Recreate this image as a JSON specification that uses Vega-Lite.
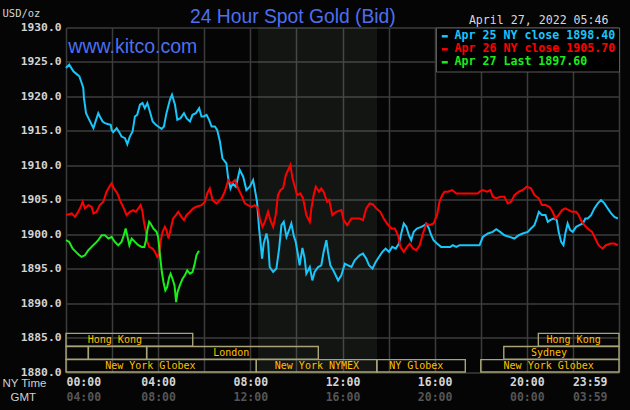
{
  "$schema": "https://vega.github.io/schema/vega-lite/v6.json",
  "width": 553,
  "height": 344.5,
  "autosize": "none",
  "padding": {"left": 66, "top": 27.5, "right": 11, "bottom": 38},
  "background": "#050505",
  "title": {
    "text": "24 Hour Spot Gold (Bid)",
    "frame": "group",
    "anchor": "start",
    "dx": 124,
    "offset": -34.5,
    "baseline": "alphabetic",
    "font": "Liberation Sans",
    "fontSize": 19.3,
    "fontWeight": "normal",
    "color": "#4d6ff0"
  },
  "config": {
    "view": {"stroke": null},
    "axis": {"gridColor": "#3c3c3c", "gridWidth": 1.5, "ticks": false, "domain": false},
    "axisY": {
      "tickCount": 10, "format": ".1f", "grid": true,
      "labelFont": "DejaVu Sans Mono", "labelFontWeight": "bold", "labelFontSize": 11.3,
      "labelColor": "#d4d4d4", "labelPadding": 5,
      "titleAngle": 0, "titleX": -64, "titleY": -14.5, "titleAlign": "left", "titleBaseline": "middle",
      "titleFont": "DejaVu Sans Mono", "titleFontSize": 10.5, "titleFontWeight": "normal", "titleColor": "#d4d4d4"
    }
  },
  "datasets": {
    "sessions": [
      {"name": "Hong Kong", "start": 0, "end": 5.5, "lo": 1883.75, "hi": 1885.6, "mid": 1884.68, "at": 2.12},
      {"name": "Hong Kong", "start": 20.5, "end": 24, "lo": 1883.75, "hi": 1885.6, "mid": 1884.68, "at": 22.03},
      {"name": "", "start": 0, "end": 0.97, "lo": 1881.85, "hi": 1883.7, "mid": 1882.78, "at": null},
      {"name": "", "start": 0.97, "end": 3.5, "lo": 1881.85, "hi": 1883.7, "mid": 1882.78, "at": null},
      {"name": "London", "start": 3.5, "end": 10.95, "lo": 1881.85, "hi": 1883.7, "mid": 1882.78, "at": 7.17},
      {"name": "Sydney", "start": 19.0, "end": 24, "lo": 1881.85, "hi": 1883.7, "mid": 1882.78, "at": 20.96},
      {"name": "New York Globex", "start": 0, "end": 8.26, "lo": 1880.0, "hi": 1881.8, "mid": 1880.9, "at": 3.66},
      {"name": "New York NYMEX", "start": 8.26, "end": 13.49, "lo": 1880.0, "hi": 1881.8, "mid": 1880.9, "at": 10.89},
      {"name": "NY Globex", "start": 13.49, "end": 17.33, "lo": 1880.0, "hi": 1881.8, "mid": 1880.9, "at": 15.2},
      {"name": "New York Globex", "start": 18.0, "end": 24, "lo": 1880.0, "hi": 1881.8, "mid": 1880.9, "at": 20.95}
    ],
    "apr25": [
      {"t": 0, "p": 1924.13}, {"t": 0.14, "p": 1924.61}, {"t": 0.32, "p": 1923.64}, {"t": 0.49, "p": 1923.16},
      {"t": 0.58, "p": 1922.91}, {"t": 0.68, "p": 1921.94}, {"t": 0.75, "p": 1921.21}, {"t": 0.78, "p": 1919.76},
      {"t": 0.87, "p": 1917.57}, {"t": 1.01, "p": 1916.6}, {"t": 1.19, "p": 1915.39}, {"t": 1.26, "p": 1916.12},
      {"t": 1.4, "p": 1917.57}, {"t": 1.47, "p": 1917.09}, {"t": 1.59, "p": 1916.36}, {"t": 1.69, "p": 1916.12},
      {"t": 1.84, "p": 1915.97}, {"t": 1.94, "p": 1915.87}, {"t": 1.98, "p": 1915.15}, {"t": 2.05, "p": 1914.81},
      {"t": 2.2, "p": 1915.39}, {"t": 2.31, "p": 1914.81}, {"t": 2.41, "p": 1914.17}, {"t": 2.56, "p": 1913.93},
      {"t": 2.66, "p": 1913.06}, {"t": 2.77, "p": 1914.17}, {"t": 2.89, "p": 1914.9}, {"t": 2.99, "p": 1917.09},
      {"t": 3.09, "p": 1917.33}, {"t": 3.21, "p": 1918.79}, {"t": 3.32, "p": 1919.03}, {"t": 3.42, "p": 1918.3},
      {"t": 3.53, "p": 1919.03}, {"t": 3.64, "p": 1917.82}, {"t": 3.76, "p": 1916.36}, {"t": 3.9, "p": 1915.87},
      {"t": 4.0, "p": 1915.63}, {"t": 4.15, "p": 1915.29}, {"t": 4.25, "p": 1915.63}, {"t": 4.36, "p": 1917.57},
      {"t": 4.51, "p": 1919.51}, {"t": 4.6, "p": 1920.24}, {"t": 4.73, "p": 1918.79}, {"t": 4.83, "p": 1916.6},
      {"t": 4.97, "p": 1916.84}, {"t": 5.12, "p": 1917.57}, {"t": 5.23, "p": 1916.84}, {"t": 5.38, "p": 1916.36},
      {"t": 5.49, "p": 1917.33}, {"t": 5.64, "p": 1917.57}, {"t": 5.78, "p": 1918.3}, {"t": 5.88, "p": 1917.09},
      {"t": 5.98, "p": 1917.09}, {"t": 6.1, "p": 1917.33}, {"t": 6.21, "p": 1916.6}, {"t": 6.32, "p": 1915.63},
      {"t": 6.46, "p": 1915.63}, {"t": 6.56, "p": 1915.15}, {"t": 6.68, "p": 1913.45}, {"t": 6.79, "p": 1911.02},
      {"t": 6.96, "p": 1910.29}, {"t": 7.04, "p": 1908.11}, {"t": 7.14, "p": 1906.65}, {"t": 7.23, "p": 1907.38},
      {"t": 7.37, "p": 1906.89}, {"t": 7.54, "p": 1909.32}, {"t": 7.69, "p": 1908.35}, {"t": 7.83, "p": 1906.41},
      {"t": 7.98, "p": 1906.89}, {"t": 8.12, "p": 1907.86}, {"t": 8.19, "p": 1906.65}, {"t": 8.29, "p": 1904.71},
      {"t": 8.38, "p": 1900.83}, {"t": 8.44, "p": 1898.88}, {"t": 8.51, "p": 1896.46}, {"t": 8.58, "p": 1898.64},
      {"t": 8.7, "p": 1900.1}, {"t": 8.77, "p": 1898.88}, {"t": 8.84, "p": 1895.24}, {"t": 8.99, "p": 1894.51},
      {"t": 9.13, "p": 1895.0}, {"t": 9.25, "p": 1897.91}, {"t": 9.35, "p": 1901.31}, {"t": 9.45, "p": 1901.8},
      {"t": 9.57, "p": 1899.61}, {"t": 9.68, "p": 1900.58}, {"t": 9.78, "p": 1901.55}, {"t": 9.88, "p": 1899.85},
      {"t": 9.97, "p": 1898.88}, {"t": 10.07, "p": 1896.94}, {"t": 10.14, "p": 1895.49}, {"t": 10.26, "p": 1898.01},
      {"t": 10.36, "p": 1896.46}, {"t": 10.43, "p": 1894.27}, {"t": 10.58, "p": 1895.24}, {"t": 10.69, "p": 1893.3},
      {"t": 10.79, "p": 1894.51}, {"t": 10.94, "p": 1895.24}, {"t": 11.08, "p": 1895.49}, {"t": 11.18, "p": 1897.43},
      {"t": 11.3, "p": 1899.13}, {"t": 11.37, "p": 1897.43}, {"t": 11.47, "p": 1895.49}, {"t": 11.62, "p": 1894.61},
      {"t": 11.81, "p": 1893.3}, {"t": 11.95, "p": 1894.03}, {"t": 12.1, "p": 1895.73}, {"t": 12.24, "p": 1895.49},
      {"t": 12.39, "p": 1895.24}, {"t": 12.53, "p": 1896.21}, {"t": 12.74, "p": 1896.94}, {"t": 12.89, "p": 1897.18},
      {"t": 13.03, "p": 1896.46}, {"t": 13.15, "p": 1895.49}, {"t": 13.3, "p": 1895.0}, {"t": 13.44, "p": 1895.97},
      {"t": 13.58, "p": 1896.7}, {"t": 13.73, "p": 1897.43}, {"t": 13.87, "p": 1897.91}, {"t": 14.02, "p": 1897.43},
      {"t": 14.16, "p": 1898.16}, {"t": 14.31, "p": 1897.91}, {"t": 14.45, "p": 1898.64}, {"t": 14.55, "p": 1900.1},
      {"t": 14.66, "p": 1901.55}, {"t": 14.77, "p": 1901.07}, {"t": 14.88, "p": 1899.85}, {"t": 14.98, "p": 1899.13},
      {"t": 15.09, "p": 1900.34}, {"t": 15.23, "p": 1900.83}, {"t": 15.42, "p": 1901.07}, {"t": 15.56, "p": 1901.31},
      {"t": 15.64, "p": 1901.55}, {"t": 15.75, "p": 1900.83}, {"t": 15.85, "p": 1899.85}, {"t": 15.95, "p": 1899.13},
      {"t": 16.1, "p": 1898.64}, {"t": 16.28, "p": 1898.16}, {"t": 16.5, "p": 1898.16}, {"t": 16.68, "p": 1898.16},
      {"t": 16.79, "p": 1898.4}, {"t": 16.94, "p": 1898.16}, {"t": 17.08, "p": 1898.4}, {"t": 17.37, "p": 1898.4},
      {"t": 17.66, "p": 1898.4}, {"t": 17.95, "p": 1898.4}, {"t": 18.09, "p": 1899.61}, {"t": 18.31, "p": 1900.1},
      {"t": 18.52, "p": 1900.34}, {"t": 18.67, "p": 1900.73}, {"t": 18.84, "p": 1900.34}, {"t": 19.03, "p": 1899.85},
      {"t": 19.25, "p": 1899.61}, {"t": 19.46, "p": 1899.37}, {"t": 19.65, "p": 1899.85}, {"t": 19.82, "p": 1900.1},
      {"t": 20.04, "p": 1900.34}, {"t": 20.18, "p": 1900.83}, {"t": 20.33, "p": 1901.31}, {"t": 20.43, "p": 1902.28},
      {"t": 20.52, "p": 1903.25}, {"t": 20.66, "p": 1902.77}, {"t": 20.81, "p": 1902.77}, {"t": 20.91, "p": 1901.8},
      {"t": 21.01, "p": 1902.04}, {"t": 21.15, "p": 1902.28}, {"t": 21.3, "p": 1902.04}, {"t": 21.38, "p": 1900.34},
      {"t": 21.49, "p": 1898.88}, {"t": 21.59, "p": 1898.4}, {"t": 21.67, "p": 1900.1}, {"t": 21.77, "p": 1901.55},
      {"t": 21.88, "p": 1900.58}, {"t": 21.99, "p": 1900.34}, {"t": 22.14, "p": 1901.07}, {"t": 22.28, "p": 1901.31},
      {"t": 22.43, "p": 1901.55}, {"t": 22.54, "p": 1902.28}, {"t": 22.64, "p": 1902.28}, {"t": 22.79, "p": 1902.77},
      {"t": 22.93, "p": 1903.74}, {"t": 23.08, "p": 1904.47}, {"t": 23.22, "p": 1904.95}, {"t": 23.37, "p": 1904.47},
      {"t": 23.51, "p": 1903.74}, {"t": 23.66, "p": 1903.01}, {"t": 23.8, "p": 1902.52}, {"t": 23.95, "p": 1902.28}
    ],
    "apr26": [
      {"t": 0, "p": 1902.77}, {"t": 0.25, "p": 1903.01}, {"t": 0.39, "p": 1902.52}, {"t": 0.53, "p": 1903.25},
      {"t": 0.64, "p": 1903.98}, {"t": 0.72, "p": 1904.71}, {"t": 0.82, "p": 1903.74}, {"t": 0.97, "p": 1904.22},
      {"t": 1.11, "p": 1903.98}, {"t": 1.19, "p": 1903.01}, {"t": 1.33, "p": 1903.25}, {"t": 1.47, "p": 1904.22},
      {"t": 1.62, "p": 1904.71}, {"t": 1.76, "p": 1906.17}, {"t": 1.88, "p": 1906.89}, {"t": 1.98, "p": 1907.38},
      {"t": 2.08, "p": 1906.65}, {"t": 2.23, "p": 1905.92}, {"t": 2.37, "p": 1904.71}, {"t": 2.51, "p": 1903.74},
      {"t": 2.63, "p": 1902.77}, {"t": 2.77, "p": 1903.25}, {"t": 2.92, "p": 1903.5}, {"t": 3.03, "p": 1903.25},
      {"t": 3.14, "p": 1903.74}, {"t": 3.24, "p": 1904.22}, {"t": 3.32, "p": 1903.25}, {"t": 3.38, "p": 1901.8},
      {"t": 3.47, "p": 1900.34}, {"t": 3.53, "p": 1898.88}, {"t": 3.61, "p": 1898.16}, {"t": 3.76, "p": 1897.91},
      {"t": 3.86, "p": 1897.43}, {"t": 3.96, "p": 1896.7}, {"t": 4.05, "p": 1897.18}, {"t": 4.1, "p": 1898.88},
      {"t": 4.19, "p": 1900.34}, {"t": 4.29, "p": 1901.07}, {"t": 4.36, "p": 1900.58}, {"t": 4.45, "p": 1899.37},
      {"t": 4.55, "p": 1900.83}, {"t": 4.65, "p": 1902.28}, {"t": 4.77, "p": 1902.77}, {"t": 4.87, "p": 1903.25},
      {"t": 5.01, "p": 1902.52}, {"t": 5.12, "p": 1902.04}, {"t": 5.23, "p": 1902.77}, {"t": 5.38, "p": 1903.25},
      {"t": 5.52, "p": 1903.74}, {"t": 5.66, "p": 1903.98}, {"t": 5.88, "p": 1904.22}, {"t": 6.03, "p": 1904.71},
      {"t": 6.13, "p": 1905.92}, {"t": 6.24, "p": 1906.65}, {"t": 6.36, "p": 1904.95}, {"t": 6.53, "p": 1904.47},
      {"t": 6.75, "p": 1905.19}, {"t": 6.89, "p": 1906.17}, {"t": 7.04, "p": 1907.86}, {"t": 7.18, "p": 1907.38},
      {"t": 7.33, "p": 1907.86}, {"t": 7.47, "p": 1906.65}, {"t": 7.61, "p": 1905.68}, {"t": 7.76, "p": 1904.47},
      {"t": 7.9, "p": 1904.22}, {"t": 8.05, "p": 1903.98}, {"t": 8.19, "p": 1904.22}, {"t": 8.34, "p": 1903.74},
      {"t": 8.41, "p": 1902.28}, {"t": 8.53, "p": 1901.07}, {"t": 8.63, "p": 1901.8}, {"t": 8.77, "p": 1903.25},
      {"t": 8.87, "p": 1902.04}, {"t": 8.99, "p": 1901.07}, {"t": 9.1, "p": 1902.77}, {"t": 9.2, "p": 1905.68},
      {"t": 9.31, "p": 1906.41}, {"t": 9.42, "p": 1906.65}, {"t": 9.54, "p": 1908.59}, {"t": 9.64, "p": 1909.32},
      {"t": 9.74, "p": 1910.05}, {"t": 9.83, "p": 1908.11}, {"t": 9.93, "p": 1906.89}, {"t": 10.03, "p": 1905.68},
      {"t": 10.17, "p": 1905.92}, {"t": 10.29, "p": 1905.19}, {"t": 10.43, "p": 1902.77}, {"t": 10.58, "p": 1901.8},
      {"t": 10.65, "p": 1903.74}, {"t": 10.75, "p": 1905.68}, {"t": 10.84, "p": 1906.89}, {"t": 10.98, "p": 1906.17},
      {"t": 11.08, "p": 1906.65}, {"t": 11.18, "p": 1906.17}, {"t": 11.33, "p": 1904.71}, {"t": 11.42, "p": 1904.95},
      {"t": 11.56, "p": 1902.77}, {"t": 11.73, "p": 1903.25}, {"t": 11.95, "p": 1903.5}, {"t": 12.05, "p": 1902.04},
      {"t": 12.2, "p": 1901.31}, {"t": 12.39, "p": 1902.28}, {"t": 12.6, "p": 1902.28}, {"t": 12.74, "p": 1902.28},
      {"t": 12.89, "p": 1902.04}, {"t": 13.03, "p": 1903.74}, {"t": 13.18, "p": 1904.47}, {"t": 13.32, "p": 1904.32},
      {"t": 13.47, "p": 1903.74}, {"t": 13.64, "p": 1903.25}, {"t": 13.79, "p": 1902.28}, {"t": 13.93, "p": 1901.55},
      {"t": 14.12, "p": 1900.83}, {"t": 14.27, "p": 1900.83}, {"t": 14.41, "p": 1899.85}, {"t": 14.51, "p": 1898.16},
      {"t": 14.66, "p": 1897.43}, {"t": 14.8, "p": 1898.16}, {"t": 14.92, "p": 1898.64}, {"t": 15.06, "p": 1897.91},
      {"t": 15.2, "p": 1897.67}, {"t": 15.35, "p": 1898.4}, {"t": 15.49, "p": 1900.1}, {"t": 15.64, "p": 1901.55},
      {"t": 15.78, "p": 1901.31}, {"t": 15.95, "p": 1901.55}, {"t": 16.1, "p": 1902.77}, {"t": 16.21, "p": 1904.71},
      {"t": 16.33, "p": 1905.68}, {"t": 16.43, "p": 1906.17}, {"t": 16.57, "p": 1906.17}, {"t": 16.76, "p": 1906.41},
      {"t": 16.94, "p": 1905.92}, {"t": 17.22, "p": 1905.92}, {"t": 17.51, "p": 1905.92}, {"t": 17.87, "p": 1905.92},
      {"t": 17.95, "p": 1906.17}, {"t": 18.09, "p": 1906.41}, {"t": 18.27, "p": 1906.17}, {"t": 18.42, "p": 1906.41},
      {"t": 18.52, "p": 1905.44}, {"t": 18.67, "p": 1905.19}, {"t": 18.84, "p": 1905.44}, {"t": 19.03, "p": 1905.44},
      {"t": 19.17, "p": 1904.47}, {"t": 19.32, "p": 1904.71}, {"t": 19.46, "p": 1905.68}, {"t": 19.65, "p": 1906.17},
      {"t": 19.82, "p": 1906.41}, {"t": 20.0, "p": 1906.89}, {"t": 20.18, "p": 1906.65}, {"t": 20.33, "p": 1905.68},
      {"t": 20.52, "p": 1905.19}, {"t": 20.66, "p": 1904.22}, {"t": 20.81, "p": 1904.22}, {"t": 20.98, "p": 1903.98},
      {"t": 21.12, "p": 1903.25}, {"t": 21.24, "p": 1902.28}, {"t": 21.38, "p": 1902.77}, {"t": 21.53, "p": 1903.5},
      {"t": 21.67, "p": 1903.74}, {"t": 21.82, "p": 1903.5}, {"t": 21.96, "p": 1903.25}, {"t": 22.14, "p": 1903.25},
      {"t": 22.25, "p": 1902.77}, {"t": 22.35, "p": 1902.04}, {"t": 22.5, "p": 1901.31}, {"t": 22.64, "p": 1900.83},
      {"t": 22.83, "p": 1900.34}, {"t": 22.97, "p": 1899.37}, {"t": 23.11, "p": 1898.4}, {"t": 23.29, "p": 1897.91},
      {"t": 23.43, "p": 1898.4}, {"t": 23.65, "p": 1898.64}, {"t": 23.8, "p": 1898.64}, {"t": 23.95, "p": 1898.4}
    ],
    "apr27": [
      {"t": 0, "p": 1899.13}, {"t": 0.14, "p": 1898.88}, {"t": 0.29, "p": 1897.91}, {"t": 0.43, "p": 1897.43},
      {"t": 0.58, "p": 1896.94}, {"t": 0.68, "p": 1896.7}, {"t": 0.82, "p": 1896.94}, {"t": 0.97, "p": 1897.67},
      {"t": 1.11, "p": 1898.16}, {"t": 1.26, "p": 1898.64}, {"t": 1.4, "p": 1899.13}, {"t": 1.55, "p": 1899.85},
      {"t": 1.69, "p": 1899.85}, {"t": 1.84, "p": 1899.37}, {"t": 1.98, "p": 1899.61}, {"t": 2.12, "p": 1898.88},
      {"t": 2.27, "p": 1898.4}, {"t": 2.41, "p": 1898.88}, {"t": 2.51, "p": 1899.85}, {"t": 2.59, "p": 1900.83},
      {"t": 2.67, "p": 1899.61}, {"t": 2.75, "p": 1898.4}, {"t": 2.85, "p": 1899.37}, {"t": 2.99, "p": 1898.88},
      {"t": 3.14, "p": 1898.4}, {"t": 3.28, "p": 1898.16}, {"t": 3.4, "p": 1898.16}, {"t": 3.47, "p": 1899.13},
      {"t": 3.53, "p": 1900.58}, {"t": 3.61, "p": 1901.8}, {"t": 3.67, "p": 1901.55}, {"t": 3.79, "p": 1900.83},
      {"t": 3.93, "p": 1900.34}, {"t": 4.0, "p": 1899.61}, {"t": 4.08, "p": 1896.94}, {"t": 4.16, "p": 1894.51},
      {"t": 4.23, "p": 1893.06}, {"t": 4.31, "p": 1891.84}, {"t": 4.39, "p": 1892.33}, {"t": 4.48, "p": 1893.79},
      {"t": 4.54, "p": 1894.27}, {"t": 4.62, "p": 1893.54}, {"t": 4.71, "p": 1892.57}, {"t": 4.78, "p": 1890.15},
      {"t": 4.84, "p": 1891.6}, {"t": 4.94, "p": 1892.57}, {"t": 5.06, "p": 1893.54}, {"t": 5.16, "p": 1894.03},
      {"t": 5.26, "p": 1894.76}, {"t": 5.38, "p": 1894.27}, {"t": 5.49, "p": 1894.51}, {"t": 5.59, "p": 1895.73},
      {"t": 5.66, "p": 1896.94}, {"t": 5.77, "p": 1897.6}
    ]
  },
  "resolve": {"axis": {"x": "independent"}},
  "layer": [
    {
      "data": {"values": [{"session": "New York NYMEX", "start": 8.333, "end": 13.5}]},
      "mark": {"type": "rect", "color": "#a8b8a8", "opacity": 0.09},
      "encoding": {
        "x": {
          "field": "start", "type": "quantitative",
          "scale": {"domain": [0, 24], "nice": false, "zero": false},
          "axis": {
            "orient": "bottom",
            "values": [0, 2, 4, 6, 8, 10, 12, 14, 16, 18, 20, 22, 24],
            "labelExpr": "datum.value % 4 ? '' : datum.value == 24 ? '23:59' : (datum.value < 10 ? '0' : '') + datum.value + ':00'",
            "grid": true,
            "labelOverlap": false,
            "labelFont": "DejaVu Sans Mono", "labelFontWeight": "bold", "labelFontSize": 11.5,
            "labelColor": "#d4d4d4", "labelBaseline": "middle", "labelPadding": 10.5,
            "labelOffset": {"condition": {"test": "datum.value == 24", "value": -12}, "value": 0},
            "title": "NY Time", "titleX": -64, "titleY": 11, "titleAlign": "left", "titleBaseline": "middle",
            "titleFont": "Liberation Sans", "titleFontSize": 11.5, "titleFontWeight": "normal", "titleColor": "#d0d0d0"
          }
        },
        "x2": {"field": "end"}
      }
    },
    {
      "data": {"name": "sessions"},
      "mark": {"type": "rect", "fillOpacity": 0, "stroke": "#a8a478", "strokeWidth": 1.4},
      "encoding": {
        "x": {
          "field": "start", "type": "quantitative",
          "scale": {"domain": [0, 24], "nice": false, "zero": false},
          "axis": {
            "orient": "bottom",
            "values": [0, 4, 8, 12, 16, 20, 24],
            "labelExpr": "datum.value == 24 ? '03:59' : ((datum.value + 4) % 24 < 10 ? '0' : '') + ((datum.value + 4) % 24) + ':00'",
            "grid": false,
            "labelOverlap": false,
            "labelFont": "DejaVu Sans Mono", "labelFontWeight": "bold", "labelFontSize": 11.5,
            "labelColor": "#555555", "labelBaseline": "middle", "labelPadding": 25,
            "labelOffset": {"condition": {"test": "datum.value == 24", "value": -12}, "value": 0},
            "title": "GMT", "titleX": -56, "titleY": 25, "titleAlign": "left", "titleBaseline": "middle",
            "titleFont": "Liberation Sans", "titleFontSize": 11.5, "titleFontWeight": "normal", "titleColor": "#d0d0d0"
          }
        },
        "x2": {"field": "end"},
        "y": {"field": "lo", "type": "quantitative", "scale": {"domain": [1880, 1930], "nice": false, "zero": false}, "axis": {"title": "USD/oz"}},
        "y2": {"field": "hi"}
      }
    },
    {
      "data": {"name": "sessions"},
      "transform": [{"filter": "datum.at != null"}],
      "mark": {"type": "text", "font": "DejaVu Sans Mono", "fontSize": 10, "color": "#ffc000", "align": "center", "baseline": "middle"},
      "encoding": {
        "x": {"field": "at", "type": "quantitative", "scale": {"domain": [0, 24], "nice": false, "zero": false}, "axis": null},
        "y": {"field": "mid", "type": "quantitative", "scale": {"domain": [1880, 1930], "nice": false, "zero": false}, "axis": {"title": "USD/oz"}},
        "text": {"field": "name"}
      }
    },
    {
      "data": {"values": [{"t": 0.1, "p": 1927.1, "label": "www.kitco.com"}]},
      "mark": {"type": "text", "font": "Liberation Sans", "fontSize": 19.5, "color": "#4d6ff0", "align": "left", "baseline": "middle"},
      "encoding": {
        "x": {
          "field": "t", "type": "quantitative",
          "scale": {"domain": [0, 24], "nice": false, "zero": false},
          "axis": {
            "orient": "top", "labels": false, "grid": false,
            "title": "April 27, 2022 05:46", "titleX": 542, "titleY": -7.5, "titleAlign": "right", "titleBaseline": "middle",
            "titleFont": "DejaVu Sans Mono", "titleFontSize": 11.6, "titleFontWeight": "normal", "titleColor": "#d8d8d8"
          }
        },
        "y": {"field": "p", "type": "quantitative", "scale": {"domain": [1880, 1930], "nice": false, "zero": false}, "axis": {"title": "USD/oz"}},
        "text": {"field": "label"}
      }
    },
    {
      "data": {"name": "apr25"},
      "mark": {"type": "line", "strokeWidth": 2},
      "encoding": {
        "x": {"field": "t", "type": "quantitative", "scale": {"domain": [0, 24], "nice": false, "zero": false}, "axis": null},
        "y": {"field": "p", "type": "quantitative", "scale": {"domain": [1880, 1930], "nice": false, "zero": false}, "axis": {"title": "USD/oz"}},
        "color": {
          "datum": "Apr 25 NY close 1898.40",
          "scale": {
            "domain": ["Apr 25 NY close 1898.40", "Apr 26 NY close 1905.70", "Apr 27 Last 1897.60"],
            "range": ["#18c6fa", "#ff0000", "#1aee1a"]
          },
          "legend": {
            "orient": "top-right", "offset": 0, "title": null,
            "fillColor": "#000000", "strokeColor": "#5a5a5a", "padding": 3,
            "labelFont": "DejaVu Sans Mono", "labelFontWeight": "bold", "labelFontSize": 11.6, "labelLimit": 0,
            "labelOffset": 4, "rowPadding": 0,
            "symbolType": "stroke", "symbolSize": 36, "symbolStrokeWidth": 2.5,
            "encode": {"labels": {"update": {"fill": {"scale": "color", "field": "value"}}}}
          }
        }
      }
    },
    {
      "data": {"name": "apr26"},
      "mark": {"type": "line", "strokeWidth": 2},
      "encoding": {
        "x": {"field": "t", "type": "quantitative", "scale": {"domain": [0, 24], "nice": false, "zero": false}, "axis": null},
        "y": {"field": "p", "type": "quantitative", "scale": {"domain": [1880, 1930], "nice": false, "zero": false}, "axis": {"title": "USD/oz"}},
        "color": {"datum": "Apr 26 NY close 1905.70"}
      }
    },
    {
      "data": {"name": "apr27"},
      "mark": {"type": "line", "strokeWidth": 2},
      "encoding": {
        "x": {"field": "t", "type": "quantitative", "scale": {"domain": [0, 24], "nice": false, "zero": false}, "axis": null},
        "y": {"field": "p", "type": "quantitative", "scale": {"domain": [1880, 1930], "nice": false, "zero": false}, "axis": {"title": "USD/oz"}},
        "color": {"datum": "Apr 27 Last 1897.60"}
      }
    }
  ]
}
